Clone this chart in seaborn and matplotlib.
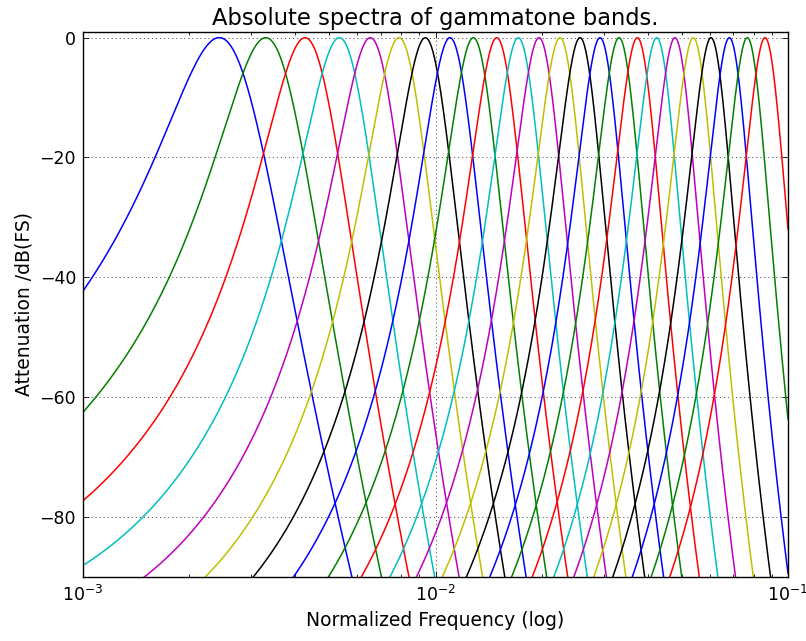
import numpy as np
import matplotlib
matplotlib.use('Agg')
import matplotlib.pyplot as plt
import seaborn as sns

# centre frequencies of the gammatone bands (normalized f/fs)
center_freqs = [0.002435, 0.003299, 0.004264, 0.005335, 0.006531, 0.007878,
                0.009356, 0.01099, 0.01280, 0.01492, 0.01717, 0.01966,
                0.02254, 0.02570, 0.02928, 0.03316, 0.03737, 0.04241,
                0.04778, 0.05386, 0.06047, 0.06817, 0.07664, 0.08606]
# old matplotlib colour cycle b, g, r, c, m, y, k
band_colors = [(0, 0, 1), (0, 0.5, 0), (1, 0, 0), (0, 0.75, 0.75),
               (0.75, 0, 0.75), (0.75, 0.75, 0), (0, 0, 0)]
y_ticks = [0, -20, -40, -60, -80]

sample_rate = 44100
order = 4


def gammatone_db(fc, freqs):
    # 4th order complex gammatone, -3 dB bandwidth = ERB, real part of output
    erb = 24.7 + fc * sample_rate / 9.265
    phi = np.pi * erb / sample_rate
    alpha = 10 ** (0.1 * -3 / order)
    p = (-2 + 2 * alpha * np.cos(phi)) / (1 - alpha)
    lam = -p / 2 - np.sqrt(p * p / 4 - 1)
    coef = lam * np.exp(2j * np.pi * fc)
    factor = 2 * (1 - lam) ** order
    w = 2 * np.pi * freqs
    h_pos = factor / (1 - coef * np.exp(-1j * w)) ** order
    h_neg = factor / (1 - coef * np.exp(1j * w)) ** order
    spec = (h_pos + np.conj(h_neg)) / 2
    return 20 * np.log10(np.abs(spec) ** 2)


sns.set_theme(style='white')
plt.rcParams['font.family'] = ['DejaVu Sans']
plt.rcParams['text.color'] = 'black'
plt.rcParams['axes.labelcolor'] = 'black'

freqs = np.logspace(-3, -1, 3000)

fig = plt.figure(figsize=(8.06, 6.41), dpi=100)
ax = fig.add_axes([0.103, 0.1006, 0.8747, 0.8499])

for i, fc in enumerate(center_freqs):
    sns.lineplot(x=freqs, y=gammatone_db(fc, freqs), color=band_colors[i % 7],
                 linewidth=1.1, ax=ax, estimator=None, sort=False)

ax.set_xscale('log')
ax.set_xlim(1e-3, 1e-1)
ax.set_ylim(-90, 1)
ax.set_yticks(y_ticks)
ax.grid(True, which='major', color='k', linestyle=(0, (1.6, 4.2)), linewidth=0.5)

for s in ax.spines.values():
    s.set_color('black')
    s.set_linewidth(1.0)
ax.tick_params(which='both', direction='in', top=True, right=True,
               bottom=True, left=True, colors='black', labelsize=12.5)
ax.tick_params(which='major', length=4, width=0.6, pad=6)
ax.tick_params(which='minor', length=2, width=0.6)
ax.tick_params(axis='y', pad=5)

ax.set_title('Absolute spectra of gammatone bands.', fontsize=16.3, pad=5)
ax.set_xlabel('Normalized Frequency (log)', fontsize=13.5, labelpad=4)
ax.set_ylabel('Attenuation /dB(FS)', fontsize=13.5, labelpad=4)

fig.savefig('out.png', dpi=100)
